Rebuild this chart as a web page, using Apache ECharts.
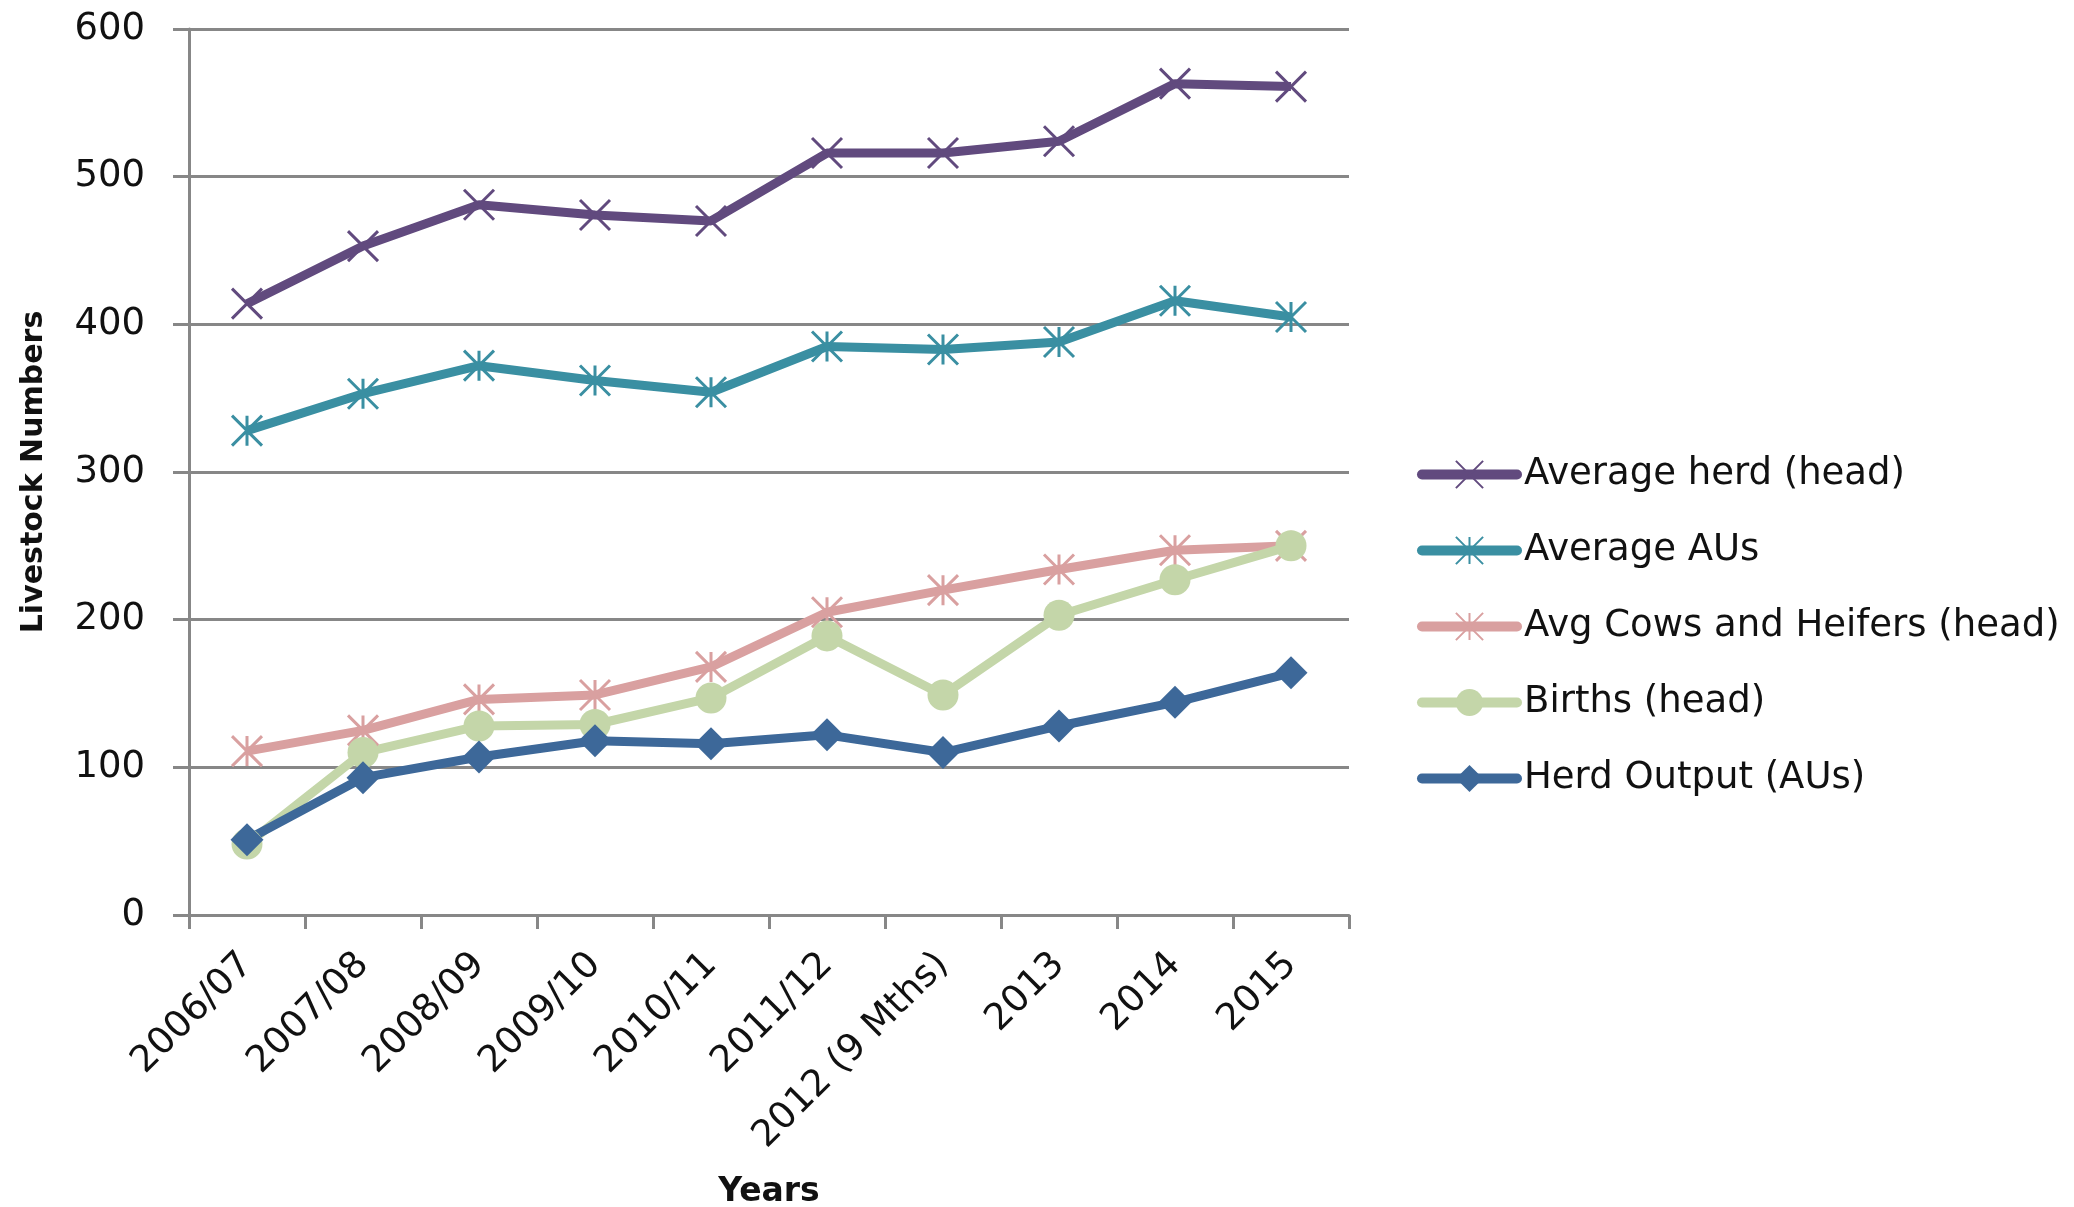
<!DOCTYPE html>
<html>
<head>
<meta charset="utf-8">
<script src="https://cdn.jsdelivr.net/npm/echarts@6/dist/echarts.min.js"></script>
<style>
  html, body { margin: 0; padding: 0; background: #fff; }
  #chart { width: 2074px; height: 1207px; }
</style>
</head>
<body>
<div id="chart"></div>
<script>
// data
const years = ['2006/07', '2007/08', '2008/09', '2009/10', '2010/11', '2011/12', '2012 (9 Mths)', '2013', '2014', '2015']
const averageHerd = [414, 453, 481, 474, 470, 516, 516, 524, 563, 561]
const averageAUs = [328, 353, 372, 362, 354, 385, 383, 388, 416, 405]
const cowsHeifers = [111, 125, 146, 149, 168, 205, 220, 234, 247, 250]
const births = [48, 110, 128, 129, 147, 189, 149, 203, 227, 250]
const herdOutput = [51, 93, 107, 118, 116, 122, 110, 128, 144, 164]
const yTicks = { min: 0, max: 600, interval: 100 }

const xMark = 'path://M0,0L20,20M20,0L0,20'
const starMark = 'path://M0,0L20,20M20,0L0,20M10,0L10,20'
const font = 'DejaVu Sans'
const grey = '#878787'

function lineSeries (name, data, color, symbol, stroked) {
  return {
    name: name,
    type: 'line',
    data: data,
    symbol: symbol,
    symbolSize: symbol === 'circle' ? 31 : (symbol === 'diamond' ? [33, 33] : 30),
    showAllSymbol: true,
    lineStyle: { color: color, width: 9 },
    itemStyle: stroked
      ? { color: 'rgba(0,0,0,0)', borderColor: color, borderWidth: 3 }
      : { color: color, borderWidth: 0 }
  }
}

const chart = echarts.init(document.getElementById('chart'))
chart.setOption({
  animation: false,
  backgroundColor: '#fff',
  textStyle: { fontFamily: font },
  grid: { left: 189, right: 725, top: 29, bottom: 292, outerBoundsMode: 'none', containLabel: false },
  legend: {
    orient: 'vertical',
    left: 1412,
    top: 451,
    itemWidth: 95,
    itemHeight: 34,
    itemGap: 39,
    lineStyle: { width: 10, cap: 'round' },
    textStyle: { fontFamily: font, fontSize: 37, color: '#111', padding: [0, 0, 0, 2] },
    data: ['Average herd (head)', 'Average AUs', 'Avg Cows and Heifers (head)', 'Births (head)', 'Herd Output (AUs)']
  },
  xAxis: {
    type: 'category',
    data: years,
    boundaryGap: true,
    name: 'Years',
    nameLocation: 'middle',
    nameGap: 261,
    nameTextStyle: { fontFamily: font, fontSize: 33, fontWeight: 'bold', color: '#111' },
    axisLine: { lineStyle: { color: grey, width: 3 } },
    axisTick: { show: true, length: 14, alignWithLabel: false, lineStyle: { color: grey, width: 3 } },
    axisLabel: { rotate: 45, fontFamily: font, fontSize: 37, color: '#111', margin: 44, interval: 0 },
    splitLine: { show: false }
  },
  yAxis: {
    type: 'value',
    min: yTicks.min,
    max: yTicks.max,
    interval: yTicks.interval,
    name: 'Livestock Numbers',
    nameLocation: 'middle',
    nameGap: 140,
    nameTextStyle: { fontFamily: font, fontSize: 30, fontWeight: 'bold', color: '#111' },
    axisLine: { show: true, lineStyle: { color: grey, width: 3 } },
    axisTick: { show: true, length: 16, lineStyle: { color: grey, width: 3 } },
    axisLabel: { fontFamily: font, fontSize: 37, color: '#111', margin: 44 },
    splitLine: { lineStyle: { color: grey, width: 3 } }
  },
  series: [
    lineSeries('Average herd (head)', averageHerd, '#614a7e', xMark, true),
    lineSeries('Average AUs', averageAUs, '#3a8fa2', starMark, true),
    lineSeries('Avg Cows and Heifers (head)', cowsHeifers, '#d9a0a0', starMark, true),
    lineSeries('Births (head)', births, '#c4d6a9', 'circle', false),
    lineSeries('Herd Output (AUs)', herdOutput, '#3d6899', 'diamond', false)
  ]
})
</script>
</body>
</html>
